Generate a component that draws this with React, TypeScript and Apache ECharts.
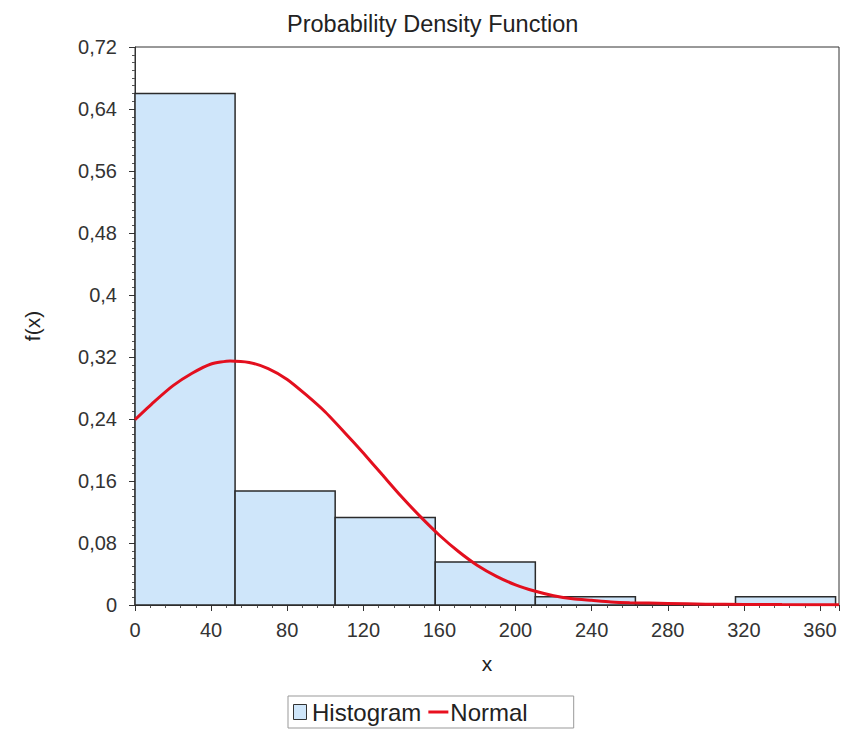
import React, { useEffect, useRef } from "react";
import * as echarts from "echarts";

const binEdges = [0, 52.6, 105.2, 157.8, 210.4, 263.0, 315.6, 368.2];
const binHeights = [0.66, 0.147, 0.113, 0.0555, 0.0105, 0.0, 0.0105];

const curveX = [0, 10, 20, 30, 40, 50, 60, 70, 80, 90, 100, 110, 120, 130, 140, 150, 160, 170, 180, 190, 200, 210, 220, 230, 240, 250, 260, 280, 300, 320, 340, 370];
const curveY = [0.239, 0.262, 0.283, 0.299, 0.311, 0.315, 0.313, 0.305, 0.291, 0.271, 0.249, 0.223, 0.196, 0.168, 0.14, 0.114, 0.09, 0.069, 0.051, 0.037, 0.026, 0.018, 0.012, 0.008, 0.006, 0.004, 0.003, 0.002, 0.001, 0.0008, 0.0005, 0.0002];

const FONT = "Liberation Sans, Arial, sans-serif";

export default function App() {
  const ref = useRef<HTMLDivElement>(null);
  useEffect(() => {
    if (!ref.current) return;
    const chart = echarts.init(ref.current, undefined, { renderer: "svg" });
    const histData = binHeights.map((h, i) => [binEdges[i], binEdges[i + 1], h]);
    const lineData = curveX.map((x, i) => [x, curveY[i]]);
    chart.setOption({
      animation: false,
      backgroundColor: "#ffffff",
      textStyle: { fontFamily: FONT },
      title: {
        text: "Probability Density Function",
        left: 282,
        top: 7,
        textStyle: { fontFamily: FONT, fontSize: 23.5, fontWeight: "normal", color: "#222" },
      },
      grid: {
        left: 135,
        right: 6,
        top: 47,
        bottom: 126,
        show: true,
        borderColor: "#333",
        borderWidth: 1,
        backgroundColor: "transparent",
      },
      legend: {
        bottom: 3,
        left: 288,
        data: [
          {
            name: "Histogram",
            icon: "path://M0,0 L13,0 L13,15 L0,15 Z",
            itemStyle: { color: "#cfe6fa", borderColor: "#333", borderWidth: 1 },
          },
          {
            name: "Normal",
            icon: "path://M0,0 L20,0 L20,3 L0,3 Z",
            itemStyle: { color: "#e8101f", borderWidth: 0 },
          },
        ],
        itemWidth: 20,
        itemHeight: 15,
        itemGap: 7,
        padding: [4, 46, 4, 5],
        borderColor: "#999",
        borderWidth: 1,
        textStyle: { fontFamily: FONT, fontSize: 24, color: "#222", padding: [0, 0, 0, -3] },
      },
      xAxis: {
        type: "value",
        min: 0,
        max: 370,
        interval: 40,
        offset: 4,
        name: "x",
        nameLocation: "middle",
        nameGap: 44,
        nameTextStyle: { fontFamily: FONT, fontSize: 21, color: "#222" },
        axisLine: { show: true, lineStyle: { color: "#333", width: 1 } },
        axisTick: { show: true, length: 6, lineStyle: { color: "#333" } },
        minorTick: { show: true, splitNumber: 5, length: 3, lineStyle: { color: "#555" } },
        splitLine: { show: false },
        axisLabel: { fontFamily: FONT, fontSize: 20, color: "#333", margin: 11 },
      },
      yAxis: {
        type: "value",
        min: 0,
        max: 0.72,
        interval: 0.08,
        offset: 4,
        name: "f(x)",
        nameLocation: "middle",
        nameGap: 88,
        nameRotate: 90,
        nameTextStyle: { fontFamily: FONT, fontSize: 21, color: "#222" },
        axisLine: { show: true, lineStyle: { color: "#333", width: 1 } },
        axisTick: { show: true, length: 6, lineStyle: { color: "#333" } },
        minorTick: { show: true, splitNumber: 8, length: 3, lineStyle: { color: "#555" } },
        splitLine: { show: false },
        axisLabel: {
          fontFamily: FONT,
          fontSize: 20,
          color: "#333",
          margin: 14,
          formatter: (v: number) => String(+v.toFixed(2)).replace(".", ","),
        },
      },
      series: [
        {
          name: "Histogram",
          type: "custom",
          itemStyle: { color: "#cfe6fa", borderColor: "#333", borderWidth: 1 },
          encode: { x: [0, 1], y: 2 },
          data: histData,
          renderItem: (params: any, api: any) => {
            const p0 = api.coord([api.value(0), api.value(2)]);
            const p1 = api.coord([api.value(1), 0]);
            return {
              type: "rect",
              shape: { x: p0[0], y: p0[1], width: p1[0] - p0[0], height: p1[1] - p0[1] },
              style: { fill: "#cfe6fa", stroke: "#2b2b2b", lineWidth: 1.5 },
            };
          },
          z: 1,
        },
        {
          name: "Normal",
          type: "line",
          data: lineData,
          smooth: 0.2,
          symbol: "none",
          lineStyle: { color: "#e30f1e", width: 3 },
          itemStyle: { color: "#e30f1e" },
          z: 3,
        },
      ],
    });
    return () => chart.dispose();
  }, []);
  return (
    <div
      ref={ref}
      style={{ position: "fixed", left: 0, top: 0, width: 845, height: 731, background: "#fff" }}
    />
  );
}
